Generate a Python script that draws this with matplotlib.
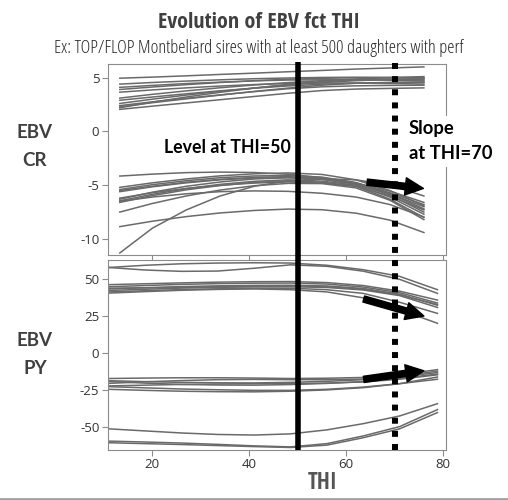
import matplotlib
matplotlib.use('Agg')
import matplotlib.pyplot as plt
import matplotlib.transforms as mtransforms
from matplotlib import font_manager
from matplotlib.font_manager import FontProperties
from matplotlib.lines import Line2D
from matplotlib.patches import FancyArrowPatch

# ---------------- data ----------------
THI_CR = [13.3, 20, 27, 34, 41, 48, 55, 62, 69, 76]
THI_PY = [11, 18.5, 26, 33.5, 41, 48.5, 56, 63.5, 71, 78.8]

CR_TOP = [
    [4.95, 5.05, 5.17, 5.3, 5.42, 5.55, 5.67, 5.8, 5.9, 6.0],
    [4.4, 4.55, 4.68, 4.8, 4.9, 4.97, 5.02, 5.04, 5.03, 5.0],
    [4.1, 4.28, 4.45, 4.58, 4.7, 4.78, 4.8, 4.8, 4.76, 4.7],
    [3.9, 4.13, 4.35, 4.55, 4.72, 4.85, 4.94, 4.99, 4.98, 4.95],
    [3.65, 3.86, 4.05, 4.22, 4.36, 4.46, 4.5, 4.5, 4.46, 4.4],
    [3.1, 3.45, 3.77, 4.06, 4.32, 4.54, 4.72, 4.88, 5.0, 5.1],
    [2.9, 3.2, 3.5, 3.78, 4.02, 4.23, 4.39, 4.49, 4.53, 4.55],
    [2.6, 3.0, 3.38, 3.73, 4.04, 4.32, 4.55, 4.72, 4.84, 4.9],
    [2.4, 2.75, 3.08, 3.4, 3.7, 3.97, 4.15, 4.24, 4.28, 4.3],
    [2.2, 2.72, 3.2, 3.64, 4.03, 4.38, 4.63, 4.78, 4.82, 4.8],
    [2.05, 2.35, 2.65, 2.95, 3.25, 3.55, 3.8, 3.94, 4.0, 4.05],
    [2.3, 2.67, 3.03, 3.38, 3.72, 4.03, 4.3, 4.48, 4.56, 4.6],
]
CR_BOTTOM = [
    [-4.15, -3.97, -3.83, -3.78, -3.82, -3.98, -4.3, -4.8, -5.55, -6.6],
    [-5.2, -4.78, -4.42, -4.13, -3.94, -3.86, -4.0, -4.5, -5.5, -6.9],
    [-5.4, -4.95, -4.58, -4.3, -4.14, -4.1, -4.25, -4.75, -5.8, -7.2],
    [-5.6, -5.15, -4.78, -4.5, -4.34, -4.3, -4.45, -4.9, -5.8, -7.0],
    [-6.3, -5.65, -5.1, -4.7, -4.42, -4.3, -4.45, -4.9, -5.9, -7.5],
    [-6.45, -5.85, -5.32, -4.92, -4.64, -4.5, -4.62, -5.0, -6.1, -7.7],
    [-6.6, -5.97, -5.43, -5.03, -4.74, -4.6, -4.72, -5.1, -6.3, -8.0],
    [-6.5, -6.1, -5.8, -5.6, -5.53, -5.57, -5.75, -6.1, -6.8, -7.95],
    [-7.5, -6.7, -6.0, -5.45, -5.05, -4.83, -4.85, -5.25, -6.4, -8.2],
    [-8.85, -8.35, -7.92, -7.58, -7.35, -7.22, -7.28, -7.6, -8.25, -9.4],
    [-11.3, -9.0, -7.3, -6.0, -5.1, -4.6, -4.4, -4.5, -5.0, -6.0],
    [-5.5, -5.1, -4.72, -4.45, -4.27, -4.2, -4.35, -4.8, -5.7, -6.8],
    [-6.2, -5.7, -5.3, -5.0, -4.8, -4.7, -4.8, -5.1, -6.0, -7.3],
]
PY_TOP = [
    [58.0, 59.5, 60.5, 61.0, 61.2, 61.0, 59.5, 56.5, 52.0, 43.0],
    [58.0, 56.3, 55.4, 55.6, 57.5, 59.8, 58.8, 55.5, 50.0, 40.5],
    [46.4, 47.0, 47.6, 48.1, 48.4, 48.5, 47.8, 45.8, 42.0, 36.0],
    [45.0, 45.8, 46.6, 47.1, 47.4, 47.5, 46.8, 44.8, 41.0, 34.0],
    [43.5, 44.3, 45.1, 45.6, 45.9, 46.0, 45.5, 43.8, 40.0, 32.5],
    [42.5, 43.3, 44.1, 44.6, 44.9, 45.0, 44.5, 42.8, 39.0, 31.0],
    [41.5, 42.3, 43.1, 43.6, 43.9, 44.0, 43.0, 40.5, 34.5, 27.0],
    [40.7, 41.7, 42.6, 43.2, 43.5, 43.0, 41.5, 37.5, 29.5, 20.3],
    [44.0, 44.3, 44.6, 45.0, 45.3, 45.5, 45.0, 43.3, 39.5, 33.0],
]
PY_BOTTOM = [
    [-17.0, -16.7, -16.5, -16.5, -16.7, -17.0, -16.8, -16.3, -14.5, -11.0],
    [-18.5, -19.1, -19.6, -19.9, -20.0, -19.6, -18.9, -17.8, -16.0, -13.0],
    [-20.3, -19.2, -18.4, -17.8, -17.6, -17.8, -17.8, -17.4, -15.5, -12.0],
    [-22.0, -21.5, -21.0, -20.7, -20.5, -20.5, -20.1, -19.3, -17.5, -14.5],
    [-24.3, -25.0, -25.6, -25.9, -26.0, -25.6, -24.7, -23.2, -20.5, -17.5],
    [-22.5, -23.3, -24.1, -24.6, -25.0, -25.0, -24.3, -22.8, -20.5, -16.0],
    [-19.0, -20.1, -21.0, -21.4, -21.5, -21.1, -20.3, -19.1, -17.0, -14.0],
    [-51.0, -52.4, -53.8, -54.8, -55.2, -54.4, -51.7, -47.5, -42.3, -34.0],
    [-59.3, -59.9, -60.6, -61.5, -62.5, -63.2, -61.0, -55.8, -49.5, -38.0],
    [-60.4, -61.0, -61.6, -62.3, -63.0, -63.6, -62.0, -57.0, -51.0, -40.0],
]

LEVEL_THI = 50
SLOPE_THI = 70
X_TICKS = [20, 40, 60, 80]
CR_TICKS = [5, 0, -5, -10]
PY_TICKS = [50, 25, 0, -25, -50]

TITLE = "Evolution of EBV fct THI"
SUBTITLE = "Ex: TOP/FLOP Montbeliard sires with at least 500 daughters with perf"

# ---------------- fonts ----------------
fl = font_manager.fontManager.ttflist


def wnum(w):
    if isinstance(w, (int, float)):
        return int(w)
    return font_manager.weight_dict.get(str(w).lower(), 400)


def is_narrow(f):
    return ('Condensed' in f.name or 'Narrow' in f.name
            or 'condensed' in str(f.stretch)) and f.style == 'normal'


narrow = [f for f in fl if is_narrow(f)]
pref = lambda f: (0 if 'Open Sans' in f.name else 1)
bold_c = sorted([f for f in narrow if wnum(f.weight) >= 600],
                key=lambda f: (pref(f), abs(wnum(f.weight) - 700)))
reg_c = sorted([f for f in narrow if 300 <= wnum(f.weight) <= 500],
               key=lambda f: (pref(f), abs(wnum(f.weight) - 400)))
TITLE_FP = (FontProperties(fname=bold_c[0].fname) if bold_c
            else FontProperties(family='Liberation Sans', weight='bold'))
SUB_FP = (FontProperties(fname=reg_c[0].fname) if reg_c
          else FontProperties(family='Liberation Sans'))

plt.rcParams['font.family'] = ['Open Sans', 'DejaVu Sans']
plt.rcParams['axes.unicode_minus'] = False

W, H = 508, 500
fig = plt.figure(figsize=(W / 100, H / 100), dpi=100)

ax1 = fig.add_axes([107.7 / W, 1 - 255 / H, (446 - 107.7) / W, (255 - 64) / H])
ax2 = fig.add_axes([107.7 / W, 1 - 450 / H, (446 - 107.7) / W, (450 - 259.5) / H])

CURVE_COLOR = '#6a6a6a'
for vals in CR_TOP + CR_BOTTOM:
    ax1.plot(THI_CR, vals, color=CURVE_COLOR, lw=1.1, solid_joinstyle='round')
for vals in PY_TOP + PY_BOTTOM:
    ax2.plot(THI_PY, vals, color=CURVE_COLOR, lw=1.1, solid_joinstyle='round')

ax1.set_xlim(10.8, 80.56)
ax2.set_xlim(10.8, 80.56)
ax1.set_ylim(-11.49, 6.27)
ax2.set_ylim(-65.3, 63.4)

for ax, yt in ((ax1, CR_TICKS), (ax2, PY_TICKS)):
    ax.set_xticks(X_TICKS)
    ax.set_yticks(yt)
    for s in ax.spines.values():
        s.set_color('#8c8c8c')
        s.set_linewidth(0.8)
    ax.tick_params(direction='out', length=4, width=0.8, color='#8c8c8c',
                   labelsize=9.5, labelcolor='#333333', pad=2)
ax1.tick_params(labelbottom=False)

# vertical reference lines spanning both panels
trans = mtransforms.blended_transform_factory(ax2.transData, fig.transFigure)
fig.add_artist(Line2D([LEVEL_THI, LEVEL_THI], [1 - 450 / H, 1 - 62 / H], transform=trans,
                      color='black', lw=4, solid_capstyle='butt', zorder=6))
fig.add_artist(Line2D([SLOPE_THI, SLOPE_THI], [1 - 450 / H, 1 - 62 / H], transform=trans,
                      color='black', lw=4.3, linestyle=(0, (1.0, 1.2)),
                      dash_capstyle='butt', zorder=6))

# arrows
def arrow(ax, p0, p1):
    a = FancyArrowPatch(p0, p1, arrowstyle='simple,head_length=1.3,head_width=1.25,tail_width=0.45',
                        mutation_scale=10, color='black', shrinkA=0, shrinkB=0, zorder=7)
    a.set_clip_on(False)
    ax.add_patch(a)

arrow(ax1, (64.3, -4.72), (75.9, -5.3))
arrow(ax2, (63.6, 36.7), (76.0, 25.2))
arrow(ax2, (63.6, -17.6), (76.0, -11.8))

# annotations
ax1.text(22.4, -1.5, "Level at THI=50", ha='left', va='center', fontsize=12.8,
         fontweight='bold', family=['Lato', 'DejaVu Sans'], color='black', zorder=8)
ax1.text(72.9, -0.9, "Slope\nat THI=70", ha='left', va='center', fontsize=13.2,
         fontweight='bold', family=['Lato', 'DejaVu Sans'], color='black',
         linespacing=1.6, zorder=8, clip_on=False,
         bbox=dict(facecolor='white', edgecolor='none', pad=3))

# titles and labels (font size fitted to the reference text width)
def fitted_text(x, y, s, target_w, size, fp, **kw):
    fp = fp.copy()
    fp.set_size(size)
    t = fig.text(x, y, s, fontproperties=fp, **kw)
    r = fig.canvas.get_renderer()
    w = t.get_window_extent(renderer=r).width
    t.set_fontsize(size * target_w / w)
    return t

fitted_text(259 / W, 1 - 22 / H, TITLE, 204, 14, TITLE_FP, ha='center', va='center',
            color='#404040')
fitted_text(259 / W, 1 - 48 / H, SUBTITLE, 412, 10, SUB_FP, ha='center', va='center',
            color='#262626')
for txt, y in (("EBV", 133), ("CR", 160), ("EBV", 341), ("PY", 368)):
    fig.text(35 / W, 1 - y / H, txt, ha='center', va='center', fontsize=13.5,
             fontweight='bold', family=['Lato', 'DejaVu Sans'], color='#404040')
fitted_text(323 / W, 1 - 483 / H, "THI", 30, 14, TITLE_FP, ha='center', va='center',
            color='#555555')

fig.add_artist(Line2D([0, 1], [0.003, 0.003], transform=fig.transFigure,
                      color='#a0a0a0', lw=2))

fig.savefig('out.png', dpi=100)
